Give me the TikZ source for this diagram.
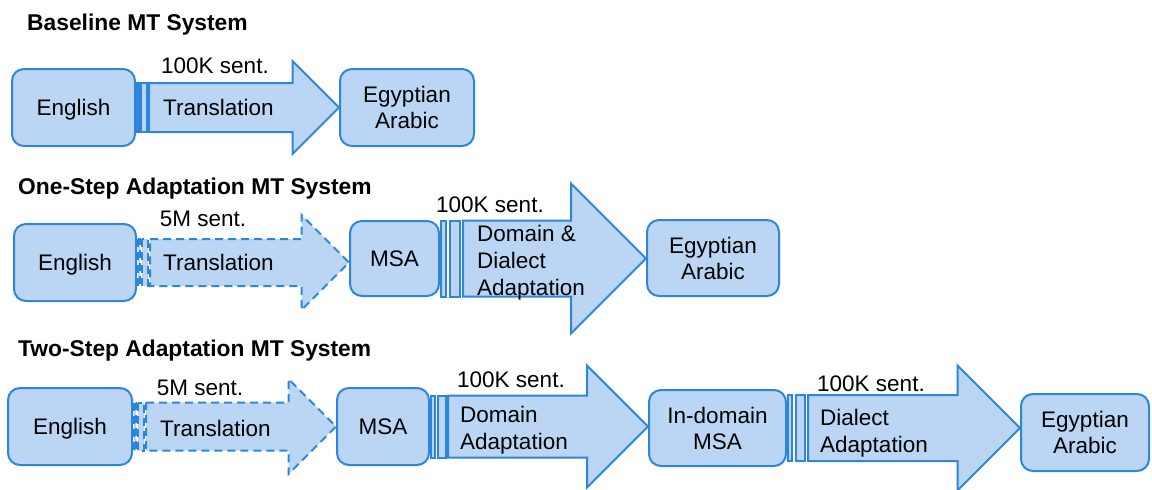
\documentclass[tikz,border=0pt]{standalone}
\usepackage{fontspec}
\setmainfont{Liberation Sans}
\definecolor{boxfill}{RGB}{187,214,245}
\definecolor{boxline}{RGB}{46,134,218}

% striped block arrow: #1 style, #2 from, #3 to, #4 half body, #5 half head, #6 stripe room
\newcommand{\stripearrow}[6]{
    \path (#2.east) coordinate (s) (#3.west |- #2.east) coordinate (t);
    \draw[#1] ([xshift={0.06*#6},yshift=#4]s) rectangle ([xshift={0.26*#6},yshift=-#4]s);
    \draw[#1] ([xshift={0.42*#6},yshift=#4]s) rectangle ([xshift={0.88*#6},yshift=-#4]s);
    \draw[#1] ([xshift=#6,yshift=#4]s) -- ([xshift=-#5,yshift=#4]t) -- ([xshift=-#5,yshift=#5]t)
        -- (t) -- ([xshift=-#5,yshift=-#5]t) -- ([xshift=-#5,yshift=-#4]t)
        -- ([xshift=#6,yshift=-#4]s) -- cycle;
}

\begin{document}
\begin{tikzpicture}[x=1pt, y=-1pt,
    roundbox/.style={draw=boxline, fill=boxfill, line width=2pt, rounded corners=12pt,
        align=center, inner sep=0pt, font=\fontsize{22.5}{26}\selectfont},
    onebox/.style={roundbox, text height=16pt, text depth=0pt},
    arrowbody/.style={draw=boxline, fill=boxfill, line width=2pt, line join=miter},
    dasharrow/.style={arrowbody, dash pattern=on 8pt off 5pt},
    lbl/.style={inner sep=0pt, font=\fontsize{22.5}{27}\selectfont},
    title/.style={inner sep=0pt, anchor=base west, font=\bfseries\fontsize{22.8}{27}\selectfont}]
    \useasboundingbox (0,0) rectangle (1152,490);

    % Baseline
    \node[title] (t1) at (27,30.5) {Baseline MT System};
    \node[onebox, minimum width=123, minimum height=77] (en1) at (73.5,107.5) {English};
    \node[roundbox, minimum width=134, minimum height=77] (ea1) at (407,107.5) {Egyptian\\Arabic};
    \stripearrow{arrowbody}{en1}{ea1}{24.5}{46.5}{13}
    \node[lbl, anchor=base] (s1) at (215,73) {100K sent.};
    \node[lbl, anchor=base west] (tr1) at (163,115) {Translation};

    % One-step adaptation
    \node[title] (t2) at (18,194) {One-Step Adaptation MT System};
    \node[onebox, minimum width=122, minimum height=77] (en2) at (75,262.5) {English};
    \node[onebox, minimum width=89, minimum height=75] (msa2) at (394.5,258.5) {MSA};
    \node[roundbox, minimum width=132, minimum height=76] (ea2) at (713,258) {Egyptian\\Arabic};
    \stripearrow{dasharrow}{en2}{msa2}{23.5}{47.5}{13}
    \stripearrow{arrowbody}{msa2}{ea2}{38}{75}{23}
    \node[lbl, anchor=base] (s2a) at (203,226) {5M sent.};
    \node[lbl, anchor=base west] (tr2) at (163,270.5) {Translation};
    \node[lbl, anchor=base] (s2b) at (490,212) {100K sent.};
    \node[lbl, anchor=west, align=left] (dd2) at (477,262.5) {Domain \&\\Dialect\\Adaptation};

    % Two-step adaptation
    \node[title] (t3) at (18,356) {Two-Step Adaptation MT System};
    \node[onebox, minimum width=124, minimum height=77] (en3) at (70,426.5) {English};
    \node[onebox, minimum width=92, minimum height=77] (msa3) at (383,426.5) {MSA};
    \node[roundbox, minimum width=137, minimum height=76] (ind3) at (717.5,428) {In-domain\\MSA};
    \node[roundbox, minimum width=128, minimum height=77] (ea3) at (1085,432.5) {Egyptian\\Arabic};
    \stripearrow{dasharrow}{en3}{msa3}{24}{47.5}{13}
    \stripearrow{arrowbody}{msa3}{ind3}{31}{61}{18}
    \stripearrow{arrowbody}{ind3}{ea3}{33}{62.5}{21}
    \node[lbl, anchor=base] (s3a) at (200,395) {5M sent.};
    \node[lbl, anchor=base west] (tr3) at (160,436.5) {Translation};
    \node[lbl, anchor=base] (s3b) at (511,387) {100K sent.};
    \node[lbl, anchor=west, align=left] (da3) at (460,430.5) {Domain\\Adaptation};
    \node[lbl, anchor=base] (s3c) at (871,391) {100K sent.};
    \node[lbl, anchor=west, align=left] (di3) at (820,433.5) {Dialect\\Adaptation};
\end{tikzpicture}
\end{document}
